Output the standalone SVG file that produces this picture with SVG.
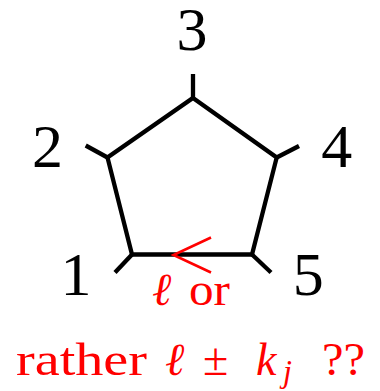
<svg xmlns="http://www.w3.org/2000/svg" width="380" height="391" viewBox="0 0 380 391">
<style>
.edge{fill:none;stroke:#000;stroke-width:4.3;stroke-linejoin:miter;stroke-linecap:butt}
.num{font-family:"Liberation Serif","Times New Roman",serif;font-size:62px;fill:#000;text-anchor:middle}
.red{font-family:"Liberation Serif","Times New Roman",serif;font-size:46px;fill:#ff0000}
.it{font-style:italic}
.arrow{fill:none;stroke:#ff0000;stroke-width:2.6;stroke-linecap:butt;stroke-linejoin:miter}
</style>
<rect width="380" height="391" fill="#fff"/>
<g id="connectors">
<polygon class="edge" points="193,98 276.7,157.5 252,254.5 132,254.5 107.5,157.5"/>
<polyline class="arrow" points="211,237.5 173.5,255 211,272.5"/>
</g>
<g id="n1">
<line class="edge" x1="132" y1="254.5" x2="115" y2="272.5"/>
<text class="num" x="76" y="295">1</text>
</g>
<g id="n2">
<line class="edge" x1="107.5" y1="157.5" x2="85.7" y2="145.5"/>
<text class="num" x="47.5" y="167">2</text>
</g>
<g id="n3">
<line class="edge" x1="193" y1="98" x2="193" y2="74"/>
<text class="num" x="192" y="50">3</text>
</g>
<g id="n4">
<line class="edge" x1="276.7" y1="157.5" x2="299" y2="146"/>
<text class="num" x="336.7" y="167">4</text>
</g>
<g id="n5">
<line class="edge" x1="252" y1="254.5" x2="271" y2="272.5"/>
<text class="num" x="308.3" y="295">5</text>
</g>
<g id="label">
<text class="red" y="305"><tspan class="it" x="152">ℓ</tspan><tspan x="189" textLength="41" lengthAdjust="spacingAndGlyphs">or</tspan></text>
<text class="red" y="375"><tspan x="16" textLength="131" lengthAdjust="spacingAndGlyphs">rather</tspan><tspan class="it" x="165">ℓ</tspan><tspan x="203">±</tspan><tspan class="it" x="256">k</tspan><tspan class="it" x="283" y="382" style="font-size:32px">j</tspan><tspan x="322" y="375" textLength="43" lengthAdjust="spacingAndGlyphs">??</tspan></text>
</g>
</svg>
